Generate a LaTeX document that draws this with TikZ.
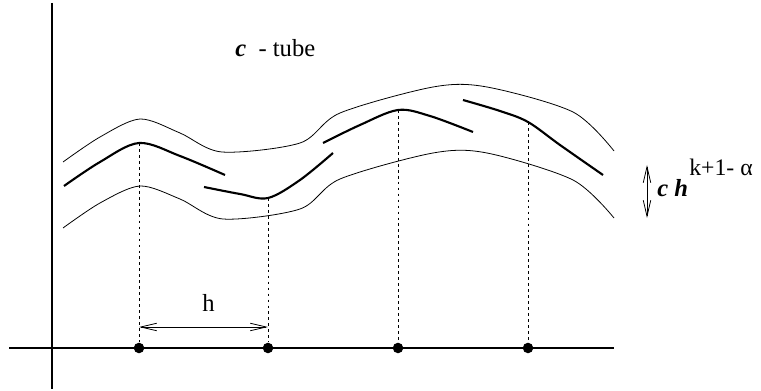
\documentclass[tikz,border=0pt]{standalone}
\usepackage{fontspec}
\setmainfont{Liberation Serif}
\usetikzlibrary{arrows.meta}

\begin{document}
\begin{tikzpicture}[
    x=0.02cm, y=-0.02cm,
    axis/.style={line width=0.6pt},
    tube/.style={line width=0.45pt},
    piece/.style={line width=1.2pt},
    guide/.style={line width=0.45pt, dash pattern=on 1.6pt off 1.8pt},
    knot/.style={circle, fill=black, inner sep=0pt, minimum size=6pt},
    span/.style={{Straight Barb[length=3.2mm,width=1.5mm]}-{Straight Barb[length=3.2mm,width=1.5mm]}, line width=0.45pt},
    lbl/.style={font=\fontsize{14}{16}\selectfont, inner sep=0pt, anchor=base west},
    sup/.style={font=\fontsize{13.5}{15}\selectfont, inner sep=0pt, anchor=base west}
]

\useasboundingbox (0,0) rectangle (761,391);

% Axes
\coordinate (ytop) at (52,3);
\coordinate (ybot) at (52,389);
\coordinate (xleft) at (9,348);
\coordinate (xright) at (614,348);
\draw[axis] (ytop) -- (ybot);
\draw[axis] (xleft) -- (xright);

% Grid points on the axis
\node[knot] (t1) at (139,348) {};
\node[knot] (t2) at (268,348) {};
\node[knot] (t3) at (398,348) {};
\node[knot] (t4) at (528,348) {};

% Tube boundaries
\draw[tube] plot[smooth, tension=0.5] coordinates {(63,162) (100,137) (140,119) (180,133) (222,152) (300,143) (340,113) (433,87) (487,87) (573,112) (614,151)};
\draw[tube] plot[smooth, tension=0.5] coordinates {(63,228) (100,203) (140,186) (180,199) (223,219) (300,209) (340,179) (433,153) (487,153) (573,180) (614,218)};

% Local pieces
\coordinate (p1) at (139,143);
\coordinate (p2) at (268,198);
\coordinate (p3) at (398,110);
\coordinate (p4) at (528,122);
\draw[piece] plot[smooth, tension=0.55] coordinates {(64,186) (100,162) (p1) (180,156) (225,175)};
\draw[piece] plot[smooth, tension=0.55] coordinates {(204,187) (240,194) (p2) (300,180) (333,153)};
\draw[piece] plot[smooth, tension=0.55] coordinates {(323,143) (360,125) (p3) (430,116) (473,132)};
\draw[piece] plot[smooth, tension=0.55] coordinates {(463,100) (500,111) (p4) (560,145) (603,175)};

% Guides down to the grid
\draw[guide] (p1) -- (t1);
\draw[guide] (p2) -- (t2);
\draw[guide] (p3) -- (t3);
\draw[guide] (p4) -- (t4);

% Step size
\coordinate (hl) at (139,327);
\coordinate (hr) at (268,327);
\draw[span] (hl) -- (hr);
\node[lbl] (step) at (202,312) {h};

% Tube width
\coordinate (wtop) at (647,165);
\coordinate (wbot) at (647,218);
\draw[span] (wtop) -- (wbot);
\node[lbl] (width) at (657,197) {\textbf{\textit{c h}}};
\node[sup] (power) at (689,176) {k+1- α};

% Title
\node[lbl] (title) at (235,57) {\textbf{\textit{c}}\ \ - tube};

\end{tikzpicture}
\end{document}
